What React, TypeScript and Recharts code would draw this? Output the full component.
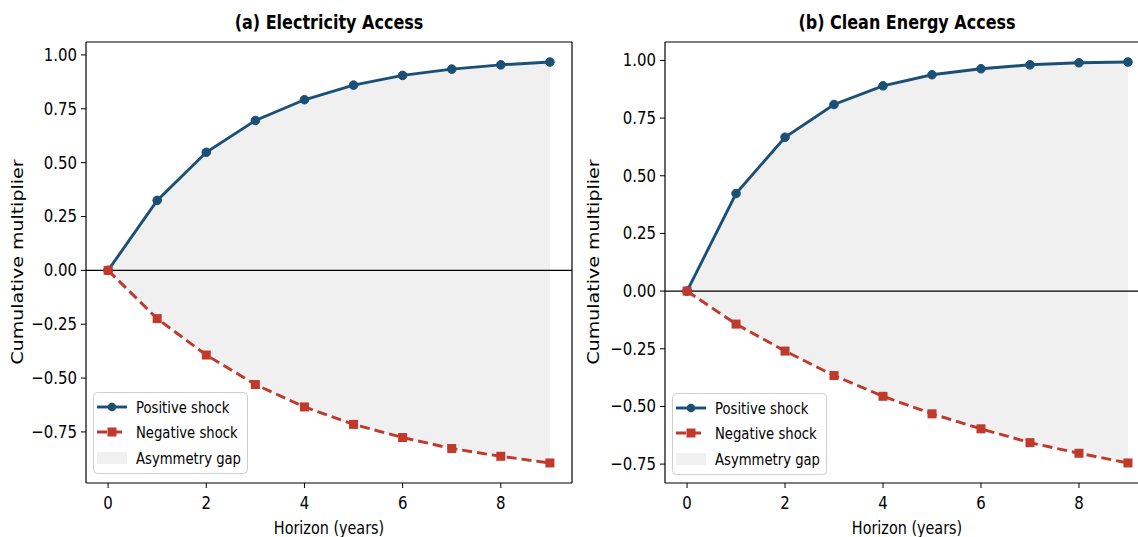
import React from "react";
import {
  ComposedChart,
  Line,
  Area,
  XAxis,
  YAxis,
  ReferenceLine,
} from "recharts";

// horizons and cumulative multipliers
const HORIZON = [0, 1, 2, 3, 4, 5, 6, 7, 8, 9];
const ELEC_POS = [0, 0.325, 0.548, 0.696, 0.792, 0.86, 0.905, 0.934, 0.954, 0.967];
const ELEC_NEG = [0, -0.224, -0.393, -0.53, -0.634, -0.715, -0.776, -0.827, -0.863, -0.894];
const CLEAN_POS = [0, 0.423, 0.667, 0.809, 0.89, 0.938, 0.964, 0.981, 0.99, 0.993];
const CLEAN_NEG = [0, -0.143, -0.26, -0.366, -0.456, -0.532, -0.597, -0.657, -0.703, -0.745];
const X_TICKS = [0, 2, 4, 6, 8];
const Y_TICKS = [-0.75, -0.5, -0.25, 0, 0.25, 0.5, 0.75, 1.0];
const LEGEND_LABELS = ["Positive shock", "Negative shock", "Asymmetry gap"];

const BLUE = "#1b5076";
const RED = "#c0392b";
const GAP = "#f0f0f0";
const FONT = "'DejaVu Sans', sans-serif";
const SQUEEZE = 0.8;
const LW = 2.9;

const W = 600;
const H = 537;
const X_DOMAIN: [number, number] = [-0.45, 9.45];

function padDomain(pos: number[], neg: number[]): [number, number] {
  const lo = Math.min(...neg);
  const hi = Math.max(...pos);
  const m = (hi - lo) * 0.05;
  return [lo - m, hi + m];
}

const fmt = (v: number) => (v < 0 ? "\u2212" + Math.abs(v).toFixed(2) : v.toFixed(2));

const YTick = (p: any) => (
  <text
    transform={`translate(${p.x} ${p.y}) scale(0.83 1)`}
    textAnchor="end"
    dominantBaseline="central"
    fontSize={18}
    fontFamily={FONT}
    fill="#000"
  >
    {fmt(p.payload.value)}
  </text>
);

const XTick = (p: any) => (
  <text
    transform={`translate(${p.x} ${p.y}) scale(0.83 1)`}
    textAnchor="middle"
    dy={17.5}
    fontSize={18}
    fontFamily={FONT}
    fill="#000"
  >
    {p.payload.value}
  </text>
);

const Square = (p: any) => (
  <rect key={`sq-${p.index}`} x={p.cx - 4.5} y={p.cy - 4.5} width={9} height={9} fill={RED} />
);

interface PanelProps {
  left: number;
  pos: number[];
  neg: number[];
  marginLeft: number;
  marginRight: number;
}

function Panel({ left, pos, neg, marginLeft, marginRight }: PanelProps) {
  const data = HORIZON.map((h, i) => ({
    h,
    pos: pos[i],
    neg: neg[i],
    gap: [neg[i], pos[i]],
  }));
  const yDomain = padDomain(pos, neg);
  return (
    <div style={{ position: "absolute", left, top: 0 }}>
      <ComposedChart
        width={W}
        height={H}
        data={data}
        margin={{ top: 42, right: marginRight, left: marginLeft, bottom: 0 }}
      >
        <XAxis
          type="number"
          dataKey="h"
          domain={X_DOMAIN}
          ticks={X_TICKS}
          allowDataOverflow
          height={54}
          tickSize={5}
          tickMargin={4}
          stroke="#000"
          tickLine={{ stroke: "#000" }}
          axisLine={{ stroke: "#000", strokeWidth: 1.2 }}
          tick={<XTick />}
        />
        <YAxis
          type="number"
          domain={yDomain}
          ticks={Y_TICKS}
          allowDataOverflow
          width={56}
          tickSize={5}
          tickMargin={4}
          tickLine={{ stroke: "#000" }}
          axisLine={{ stroke: "#000", strokeWidth: 1.2 }}
          tick={<YTick />}
        />
        <Area
          type="linear"
          dataKey="gap"
          fill={GAP}
          fillOpacity={1}
          stroke="none"
          isAnimationActive={false}
          activeDot={false}
        />
        <ReferenceLine y={0} stroke="#000" strokeWidth={1.3} />
        <ReferenceLine y={yDomain[1]} stroke="#000" strokeWidth={1.2} />
        <ReferenceLine x={X_DOMAIN[1]} stroke="#000" strokeWidth={1.2} />
        <Line
          type="linear"
          dataKey="pos"
          stroke={BLUE}
          strokeWidth={LW}
          dot={{ r: 4.3, fill: BLUE, stroke: BLUE, strokeWidth: 1 }}
          activeDot={false}
          isAnimationActive={false}
        />
        <Line
          type="linear"
          dataKey="neg"
          stroke={RED}
          strokeWidth={LW}
          strokeDasharray="10 5"
          dot={Square}
          activeDot={false}
          isAnimationActive={false}
        />
      </ComposedChart>
    </div>
  );
}

function Legend({ x, y }: { x: number; y: number }) {
  const rows = [y + 15, y + 40, y + 66];
  return (
    <g>
      <rect x={x + 0.5} y={y + 0.5} width={154} height={81} rx={4} fill="#fff" fillOpacity={0.8} stroke="#cfcfcf" />
      <line x1={x + 4} x2={x + 34} y1={rows[0]} y2={rows[0]} stroke={BLUE} strokeWidth={LW} />
      <circle cx={x + 19} cy={rows[0]} r={4.3} fill={BLUE} />
      <line x1={x + 4} x2={x + 34} y1={rows[1]} y2={rows[1]} stroke={RED} strokeWidth={LW} strokeDasharray="10 5" />
      <rect x={x + 14.5} y={rows[1] - 4.5} width={9} height={9} fill={RED} />
      <rect x={x + 4} y={rows[2] - 6} width={30} height={12} fill={GAP} />
      {LEGEND_LABELS.map((t, i) => (
        <text
          key={t}
          transform={`translate(${x + 43} ${rows[i]}) scale(${SQUEEZE} 1)`}
          dominantBaseline="central"
          fontSize={16.5}
          fontFamily={FONT}
        >
          {t}
        </text>
      ))}
    </g>
  );
}

function Labels({ cx, ylabX, title }: { cx: number; ylabX: number; title: string }) {
  return (
    <g fontFamily={FONT} fill="#000">
      <text
        transform={`translate(${cx} 22) scale(${SQUEEZE} 1)`}
        textAnchor="middle"
        dominantBaseline="central"
        fontSize={20}
        fontWeight="bold"
      >
        {title}
      </text>
      <text
        transform={`translate(${cx} 528) scale(${SQUEEZE} 1)`}
        textAnchor="middle"
        dominantBaseline="central"
        fontSize={18}
      >
        Horizon (years)
      </text>
      <text
        transform={`translate(${ylabX} 262) rotate(-90) scale(1 ${SQUEEZE})`}
        textAnchor="middle"
        dominantBaseline="central"
        fontSize={19}
      >
        Cumulative multiplier
      </text>
    </g>
  );
}

export default function App() {
  return (
    <div
      style={{
        position: "fixed",
        left: 0,
        top: 0,
        width: 1138,
        height: 537,
        overflow: "hidden",
        background: "#fff",
      }}
    >
      <Panel left={0} pos={ELEC_POS} neg={ELEC_NEG} marginLeft={30} marginRight={28} />
      <Panel left={580} pos={CLEAN_POS} neg={CLEAN_NEG} marginLeft={29} marginRight={30} />
      <svg
        width={1138}
        height={537}
        style={{ position: "absolute", left: 0, top: 0, pointerEvents: "none" }}
      >
        <Labels cx={329} ylabX={18} title="(a) Electricity Access" />
        <Labels cx={907} ylabX={594} title="(b) Clean Energy Access" />
        <Legend x={93} y={392} />
        <Legend x={672} y={393} />
      </svg>
    </div>
  );
}
